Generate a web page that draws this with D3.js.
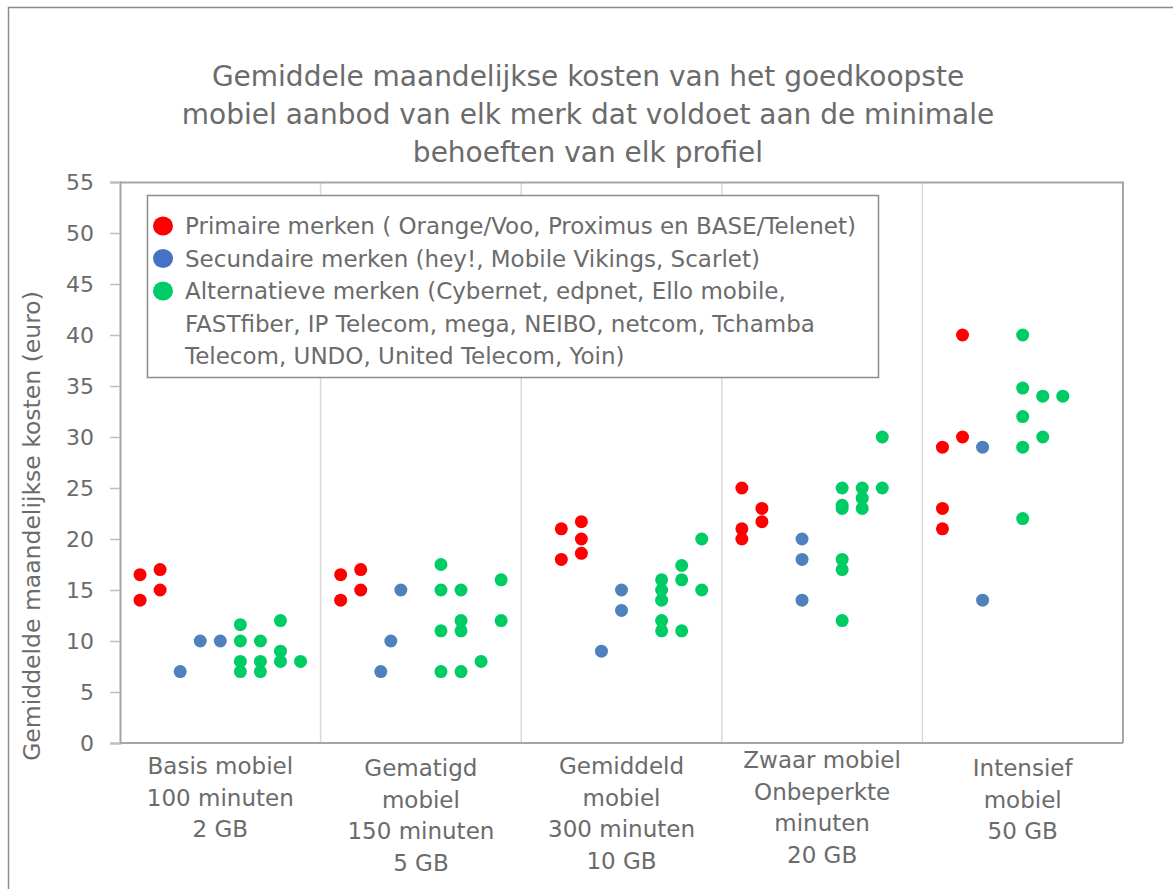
<!DOCTYPE html>
<html>
<head>
<meta charset="utf-8">
<script src="https://cdn.jsdelivr.net/npm/d3@7"></script>
<style>
  body { margin: 0; background: #ffffff; }
  text { font-family: "DejaVu Sans", Verdana, sans-serif; fill: #6b6b6b; }
</style>
</head>
<body>
<svg id="chart"></svg>
<script>
// Mobiel aanbod scatter JS

// Profiles on the x-axis (one label line per entry).
let profiles = [
  ["Basis mobiel", "100 minuten", "2 GB"],
  ["Gematigd", "mobiel", "150 minuten", "5 GB"],
  ["Gemiddeld", "mobiel", "300 minuten", "10 GB"],
  ["Zwaar mobiel", "Onbeperkte", "minuten", "20 GB"],
  ["Intensief", "mobiel", "50 GB"]
];
let yTicks = [0, 5, 10, 15, 20, 25, 30, 35, 40, 45, 50, 55];

// Points per brand group: x = profile index + slot, y = euro per month.
let primaireX = [0.1, 0.1, 0.2, 0.2,
  1.1, 1.1, 1.2, 1.2,
  2.2, 2.2, 2.3, 2.3, 2.3,
  3.1, 3.1, 3.1, 3.2, 3.2,
  4.1, 4.1, 4.1, 4.2, 4.2];
let primaireY = [16.5, 14, 17, 15,
  16.5, 14, 17, 15,
  21, 18, 21.7, 20, 18.6,
  25, 21, 20, 23, 21.7,
  29, 23, 21, 40, 30];

let secundaireX = [0.3, 0.4, 0.5,
  1.3, 1.35, 1.4,
  2.4, 2.5, 2.5,
  3.4, 3.4, 3.4,
  4.3, 4.3];
let secundaireY = [7, 10, 10,
  7, 10, 15,
  9, 15, 13,
  20, 18, 14,
  29, 14];

let alternatieveX = [0.6, 0.6, 0.6, 0.6, 0.7, 0.7, 0.7, 0.8, 0.8, 0.8, 0.9,
  1.6, 1.6, 1.6, 1.6, 1.7, 1.7, 1.7, 1.7, 1.8, 1.9, 1.9,
  2.7, 2.7, 2.7, 2.7, 2.7, 2.8, 2.8, 2.8, 2.9, 2.9,
  3.6, 3.6, 3.6, 3.6, 3.6, 3.6, 3.7, 3.7, 3.7, 3.8, 3.8,
  4.5, 4.5, 4.5, 4.5, 4.5, 4.6, 4.6, 4.7];
let alternatieveY = [11.6, 10, 8, 7, 10, 8, 7, 12, 9, 8, 8,
  17.5, 15, 11, 7, 15, 12, 11, 7, 8, 16, 12,
  16, 15, 14, 12, 11, 17.4, 16, 11, 20, 15,
  25, 23.3, 23, 18, 17, 12, 25, 24, 23, 30, 25,
  40, 34.8, 32, 29, 22, 34, 30, 34];

let seriesNames = [
  ["Primaire merken ( Orange/Voo, Proximus en BASE/Telenet)"],
  ["Secundaire merken (hey!, Mobile Vikings, Scarlet)"],
  ["Alternatieve merken (Cybernet, edpnet, Ello mobile,",
   "FASTfiber, IP Telecom, mega, NEIBO, netcom, Tchamba",
   "Telecom, UNDO, United Telecom, Yoin)"]
];
let seriesColors = ["#ff0000", "#4f81bd", "#00cc66"];
let legendColors = ["#ff0000", "#4472c4", "#00cc66"];

let titleLines = [
  "Gemiddele maandelijkse kosten van het goedkoopste",
  "mobiel aanbod van elk merk dat voldoet aan de minimale",
  "behoeften van elk profiel"
];
let yTitle = "Gemiddelde maandelijkse kosten (euro)";

function drawChart(){
  let width = 1173;
  let height = 889;
  let svg = d3.select('#chart')
    .attr("width", width)
    .attr("height", height);

  // Outer chart border (runs off the right and bottom edges).
  svg.append('rect')
    .attr("x", 8.5).attr("y", 7.5)
    .attr("width", 1180).attr("height", 900)
    .attr("fill", "none")
    .attr("stroke", "#8c8c8c")
    .attr("stroke-width", 1.5);

  let margins = {top: 182, bottom: 146, left: 120, right: 50};
  let plotW = width - margins.left - margins.right;
  let plotH = height - margins.top - margins.bottom;

  let xScale = d3.scaleLinear()
    .domain([0, profiles.length])
    .range([0, plotW]);
  let yScale = d3.scaleLinear()
    .domain([0, 55])
    .range([plotH, 0]);

  let g = svg.append('g')
    .attr("transform", `translate(${margins.left},${margins.top})`);

  // Vertical dividers between the profiles.
  g.selectAll('.divider')
    .data(d3.range(1, profiles.length))
    .join('line')
    .attr("class", "divider")
    .attr("x1", d => xScale(d)).attr("x2", d => xScale(d))
    .attr("y1", 0).attr("y2", plotH)
    .attr("stroke", "#d9d9d9")
    .attr("stroke-width", 1.5);

  // Plot area frame (top and right).
  g.append('path')
    .attr("d", `M0,0.5H${plotW}V${plotH}`)
    .attr("fill", "none")
    .attr("stroke", "#a6a6a6")
    .attr("stroke-width", 2);

  // Y-axis with outside ticks.
  let yAxis = g.append('g')
    .call(d3.axisLeft(yScale).tickValues(yTicks).tickSize(10).tickPadding(16));
  yAxis.select('.domain').attr("stroke", "#a6a6a6").attr("stroke-width", 2);
  yAxis.selectAll('.tick line').attr("stroke", "#bfbfbf").attr("stroke-width", 1.5);
  yAxis.selectAll('.tick text')
    .attr("font-size", "22px")
    .attr("font-family", "DejaVu Sans, Verdana, sans-serif")
    .attr("fill", "#6b6b6b");

  // X-axis line.
  g.append('line')
    .attr("x1", 0).attr("x2", plotW)
    .attr("y1", plotH).attr("y2", plotH)
    .attr("stroke", "#a6a6a6")
    .attr("stroke-width", 2);

  // Profile labels under the axis.
  let labelTop = [23, 25, 23, 17, 25];
  profiles.forEach(function(lines, i){
    let t = g.append('text')
      .attr("text-anchor", "middle")
      .attr("font-size", "23px")
      .attr("transform", `translate(${xScale(i + 0.5)},${plotH + labelTop[i]})`);
    lines.forEach(function(line, j){
      t.append('tspan')
        .attr("x", 0)
        .attr("y", j * 31.5)
        .attr("dy", "0.35em")
        .text(line);
    });
  });

  // Scatter points for the three brand groups.
  let allSeries = [
    d3.zip(primaireX, primaireY),
    d3.zip(secundaireX, secundaireY),
    d3.zip(alternatieveX, alternatieveY)
  ];
  allSeries.forEach(function(points, s){
    g.append('g')
      .selectAll('circle')
      .data(points)
      .join('circle')
      .attr("cx", d => xScale(d[0]))
      .attr("cy", d => yScale(d[1]))
      .attr("r", 6.5)
      .attr("fill", seriesColors[s]);
  });

  // Legend box.
  let legend = svg.append('g');
  legend.append('rect')
    .attr("x", 147.5).attr("y", 195.5)
    .attr("width", 731).attr("height", 182)
    .attr("fill", "#ffffff")
    .attr("stroke", "#8c8c8c")
    .attr("stroke-width", 1.5);
  let row = 0;
  seriesNames.forEach(function(lines, s){
    let yRow = 226 + row * 32.5;
    legend.append('ellipse')
      .attr("cx", 163).attr("cy", yRow)
      .attr("rx", 10).attr("ry", 9.5)
      .attr("fill", legendColors[s]);
    lines.forEach(function(line){
      legend.append('text')
        .attr("x", 185)
        .attr("y", 226 + row * 32.5)
        .attr("dy", "0.35em")
        .attr("font-size", "23px")
        .text(line);
      row += 1;
    });
  });

  // Title.
  let title = svg.append('text')
    .attr("text-anchor", "middle")
    .attr("font-size", "28px");
  titleLines.forEach(function(line, j){
    title.append('tspan')
      .attr("x", 588)
      .attr("y", 76 + j * 38)
      .attr("dy", "0.35em")
      .text(line);
  });

  // Y-axis title.
  svg.append('text')
    .attr("text-anchor", "middle")
    .attr("font-size", "23.5px")
    .attr("transform", "translate(32,526) rotate(-90)")
    .attr("dy", "0.35em")
    .text(yTitle);
}

drawChart();
</script>
</body>
</html>
